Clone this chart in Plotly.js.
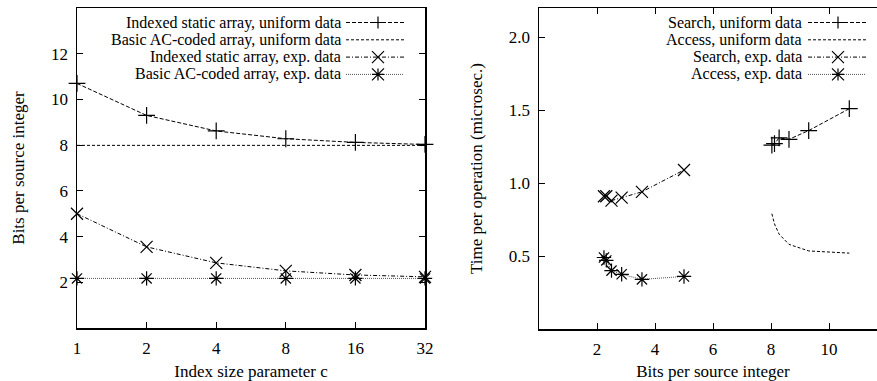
<!DOCTYPE html>
<html>
<head>
<meta charset="utf-8">
<script src="https://cdn.plot.ly/plotly-3.0.1.min.js"></script>
<style>
html,body{margin:0;padding:0;overflow:hidden;background:#fff;}
#chart{width:887px;height:381px;}
</style>
</head>
<body>
<div id="chart"></div>
<script>
// ---- Left panel data ----
const cValues = [1, 2, 4, 8, 16, 32];
const idxUniform = [10.7, 9.3, 8.62, 8.28, 8.12, 8.03];
const acUniform = [7.99, 7.99, 7.99, 7.99, 7.99, 7.99];
const idxExp = [5.0, 3.55, 2.85, 2.5, 2.32, 2.24];
const acExp = [2.17, 2.17, 2.17, 2.17, 2.17, 2.17];
const leftNames = ["Indexed static array, uniform data", "Basic AC-coded array, uniform data",
                   "Indexed static array, exp. data", "Basic AC-coded array, exp. data"];
const cTickLabels = ["1", "2", "4", "8", "16", "32"];

// ---- Right panel data ----
const uniBits = [8.03, 8.12, 8.28, 8.62, 9.3, 10.7];
const searchUniform = [1.26, 1.27, 1.31, 1.30, 1.36, 1.51];
const accessUniform = [0.79, 0.72, 0.65, 0.58, 0.535, 0.52];
const expBits = [2.24, 2.32, 2.5, 2.85, 3.55, 5.0];
const searchExp = [0.91, 0.91, 0.88, 0.90, 0.94, 1.09];
const accessExp = [0.49, 0.47, 0.40, 0.375, 0.34, 0.36];
const rightNames = ["Search, uniform data", "Access, uniform data", "Search, exp. data", "Access, exp. data"];

const W = 887, H = 381;
const FONT = "Liberation Serif";
const FS = 17;
const LFS = 16;
const styles = [
  {dash: "4px,2px", color: "#000", sym: "cross-thin-open", glyph: "plus"},
  {dash: "3px,2px", color: "#000", sym: null, glyph: null},
  {dash: "4px,2px,1px,2px", color: "#000", sym: "x-thin-open", glyph: "x"},
  {dash: "1px,1px", color: "#555", sym: "asterisk-open", glyph: "ast"}
];

function mk(x, y, i, xa, ya, name) {
  const s = styles[i];
  const t = {x: x, y: y, type: "scatter", name: name, xaxis: xa, yaxis: ya, cliponaxis: false,
    mode: s.sym ? "lines+markers" : "lines", showlegend: false,
    line: {color: s.color, width: 1, dash: s.dash}};
  if (s.sym) t.marker = {symbol: s.sym, size: 12, color: "#000", line: {color: "#000", width: 1.2}};
  return t;
}

const data = [
  mk(cValues, idxUniform, 0, "x", "y", leftNames[0]),
  mk(cValues, acUniform, 1, "x", "y", leftNames[1]),
  mk(cValues, idxExp, 2, "x", "y", leftNames[2]),
  mk(cValues, acExp, 3, "x", "y", leftNames[3]),
  mk(uniBits, searchUniform, 0, "x2", "y2", rightNames[0]),
  mk(uniBits, accessUniform, 1, "x2", "y2", rightNames[1]),
  mk(expBits, searchExp, 2, "x2", "y2", rightNames[2]),
  mk(expBits, accessExp, 3, "x2", "y2", rightNames[3])
];

const px = v => v / W, py = v => 1 - v / H;
const shapes = [], annotations = [];
function legend(names, textRight, x0, x1, xm, ys) {
  names.forEach((n, i) => {
    const s = styles[i], y = ys[i];
    annotations.push({xref: "paper", yref: "paper", x: px(textRight), y: py(y), xanchor: "right", yanchor: "middle",
      text: n, showarrow: false, borderpad: 0, font: {family: FONT, size: LFS, color: "#000"}});
    shapes.push({type: "line", xref: "paper", yref: "paper", x0: px(x0), x1: px(x1), y0: py(y), y1: py(y),
      line: {color: s.color, width: 1, dash: s.dash}});
    const r = 6;
    let p = "";
    if (s.glyph === "plus" || s.glyph === "ast")
      p += `M${px(xm - r)},${py(y)}L${px(xm + r)},${py(y)}M${px(xm)},${py(y - r)}L${px(xm)},${py(y + r)}`;
    if (s.glyph === "x" || s.glyph === "ast")
      p += `M${px(xm - r)},${py(y - r)}L${px(xm + r)},${py(y + r)}M${px(xm - r)},${py(y + r)}L${px(xm + r)},${py(y - r)}`;
    if (p) shapes.push({type: "path", xref: "paper", yref: "paper", path: p, line: {color: "#000", width: 1.2}});
  });
}
legend(leftNames, 342, 346, 404, 378, [22.5, 39.8, 57.1, 74.4]);
legend(rightNames, 803, 808, 866, 838, [22.5, 39.8, 57.1, 74.4]);

const axBase = {showline: true, linecolor: "#000", linewidth: 1.5, mirror: "allticks", ticks: "inside",
  ticklen: 6, tickwidth: 1, tickcolor: "#000", showgrid: false, zeroline: false,
  tickfont: {family: FONT, size: FS, color: "#000"}, ticklabelstandoff: 4};

const layout = {
  width: W, height: H, margin: {l: 0, r: 0, t: 0, b: 0}, paper_bgcolor: "#fff", plot_bgcolor: "#fff",
  showlegend: false, font: {family: FONT, size: FS, color: "#000"},
  xaxis: Object.assign({}, axBase, {domain: [77 / W, 425 / W], type: "log", range: [0, Math.log10(32)],
    mirror: true, tickvals: cValues, ticktext: cTickLabels, anchor: "y",
    title: {text: "Index size parameter c", font: {family: FONT, size: FS, color: "#000"}, standoff: 10}}),
  yaxis: Object.assign({}, axBase, {domain: [53 / H, 373 / H], range: [0, 14], tickvals: [2, 4, 6, 8, 10, 12], anchor: "x",
    title: {text: "Bits per source integer", font: {family: FONT, size: FS, color: "#000"}, standoff: 22}}),
  xaxis2: Object.assign({}, axBase, {domain: [539 / W, 1], range: [0, 12], tickvals: [2, 4, 6, 8, 10], anchor: "y2",
    title: {text: "Bits per source integer", font: {family: FONT, size: FS, color: "#000"}, standoff: 10}}),
  yaxis2: Object.assign({}, axBase, {domain: [52 / H, 373 / H], range: [0, 2.2], tickvals: [0.5, 1.0, 1.5, 2.0],
    ticktext: ["0.5", "1.0", "1.5", "2.0"], anchor: "x2",
    title: {text: "Time per operation (microsec.)", font: {family: FONT, size: FS, color: "#000"}, standoff: 22}}),
  shapes: shapes, annotations: annotations
};

Plotly.newPlot("chart", data, layout, {displayModeBar: false, staticPlot: true});
</script>
</body>
</html>
